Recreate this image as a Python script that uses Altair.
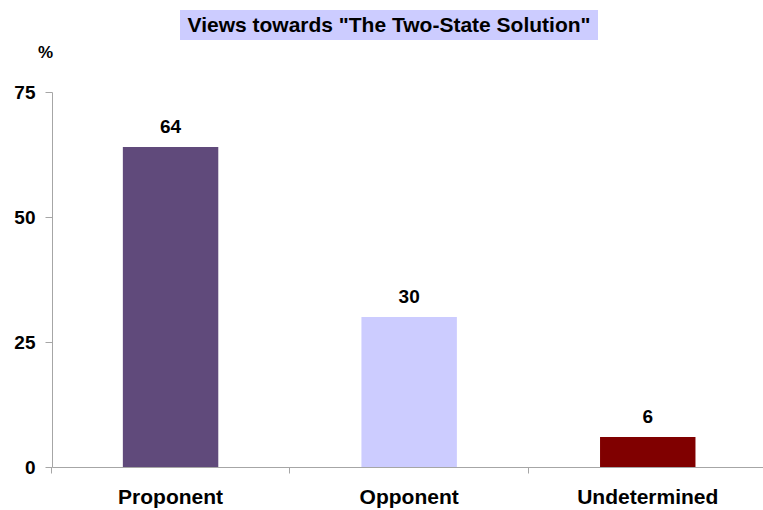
import altair as alt
import pandas as pd

categories = ["Proponent", "Opponent", "Undetermined"]
values = [64, 30, 6]
colors = ["#604A7B", "#CCCCFF", "#800000"]
title_text = 'Views towards "The Two-State Solution"'

df = pd.DataFrame({"category": categories, "value": values, "color": colors})
FONT = "Liberation Sans"

base = alt.Chart(df).encode(
    x=alt.X("category:N", sort=categories,
            scale=alt.Scale(paddingInner=0.6, paddingOuter=0.29, align=0.512),
            axis=alt.Axis(title=None, labelAngle=0, labelFont=FONT, labelFontSize=21,
                          labelFontWeight="bold", labelColor="black", labelPadding=13,
                          domainColor="#A6A6A6", tickColor="#A6A6A6", tickSize=6,
                          bandPosition=-0.75, labelBaseline="top")),
)

bars = base.mark_bar().encode(
    y=alt.Y("value:Q", scale=alt.Scale(domain=[0, 75], nice=False),
            axis=alt.Axis(values=[0, 25, 50, 75], grid=False, title="%", titleAngle=0,
                          titleX=-7, titleY=-40, titleAlign="center", titleBaseline="middle",
                          titleFont=FONT, titleFontSize=17, titleFontWeight="bold",
                          titleColor="black",
                          labelFont=FONT, labelFontSize=19, labelFontWeight="bold",
                          labelColor="black", labelPadding=10,
                          domainColor="#A6A6A6", tickColor="#A6A6A6", tickSize=7)),
    color=alt.Color("color:N", scale=None),
)

labels = base.mark_text(font=FONT, fontSize=19, fontWeight="bold", color="black",
                        baseline="bottom", dy=-10).encode(
    y=alt.Y("value:Q"),
    text=alt.Text("value:Q"),
)

title_bg = alt.Chart(pd.DataFrame({"t": [title_text]})).mark_rect(color="#CCCCFF").encode(
    x=alt.value(128), x2=alt.value(546), y=alt.value(-82), y2=alt.value(-52)
)
title_txt = alt.Chart(pd.DataFrame({"t": [title_text]})).mark_text(
    font=FONT, fontSize=21, fontWeight="bold", color="black", align="center", baseline="middle"
).encode(x=alt.value(337), y=alt.value(-66), text="t:N")

chart = alt.layer(title_bg, title_txt, bars, labels).properties(
    width=711, height=375,
    autosize=alt.AutoSizeParams(type="none"),
    padding={"left": 52, "top": 92, "right": 0, "bottom": 43},
).configure(background="white").configure_view(stroke=None)

chart.save("out.html", embed_options={"renderer": "svg", "actions": False})
